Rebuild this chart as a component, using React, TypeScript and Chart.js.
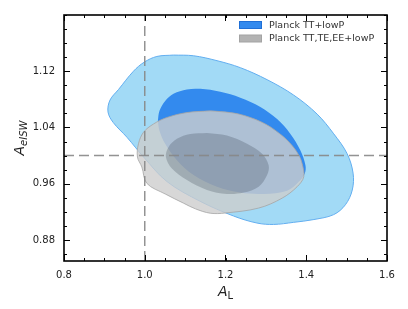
import React, { useEffect, useRef } from "react";
import { Chart, registerables } from "chart.js";

Chart.register(...registerables);

// ---- data ----
const AL_RANGE = [0.8, 1.6];
const AEISW_RANGE = [0.85, 1.2];
const AL_TICKS = [0.8, 1.0, 1.2, 1.4, 1.6];
const AEISW_TICKS = [0.88, 0.96, 1.04, 1.12];
const AL_MINOR_STEP = 0.05;
const AEISW_MINOR_STEP = 0.02;
const REF_AL = 1.0;
const REF_AEISW = 1.0;
const LEGEND_LABELS = ["Planck TT+lowP", "Planck TT,TE,EE+lowP"];

// Planck TT+lowP, 95% contour
const TT95_AL = [1.071, 1.121, 1.179, 1.237, 1.303, 1.369, 1.427, 1.468, 1.501, 1.516, 1.514, 1.497, 1.468, 1.419, 1.369, 1.319, 1.278, 1.220, 1.137, 1.055, 0.997, 0.956, 0.922, 0.909, 0.914, 0.935, 0.972, 0.999, 1.030];
const TT95_AEISW = [1.143, 1.142, 1.135, 1.125, 1.108, 1.086, 1.059, 1.031, 1.003, 0.975, 0.951, 0.930, 0.916, 0.909, 0.905, 0.902, 0.904, 0.914, 0.935, 0.963, 0.998, 1.026, 1.047, 1.062, 1.079, 1.094, 1.120, 1.133, 1.141];
// Planck TT+lowP, 68% contour
const TT68_AL = [1.0325, 1.0365, 1.0506, 1.0712, 1.1045, 1.1375, 1.1871, 1.2367, 1.2864, 1.3278, 1.3608, 1.3856, 1.398, 1.3963, 1.3814, 1.3526, 1.2945, 1.2367, 1.1789, 1.1208, 1.0797, 1.0506, 1.0365];
const TT68_AEISW = [1.0495, 1.0636, 1.0776, 1.0879, 1.0941, 1.0949, 1.0907, 1.0823, 1.0692, 1.0519, 1.0308, 1.0073, 0.9862, 0.9745, 0.9627, 0.9501, 0.9454, 0.9473, 0.9557, 0.9722, 0.9933, 1.0167, 1.0354];
// Planck TT,TE,EE+lowP, 95% contour
const TTTEEE95_AL = [1.1623, 1.2119, 1.2491, 1.2988, 1.3402, 1.3650, 1.3819, 1.3898, 1.3938, 1.3774, 1.3402, 1.2821, 1.1995, 1.1623, 1.1251, 1.0960, 1.0506, 1.0052, 0.9928, 0.9819, 0.9844, 0.9968, 1.0216, 1.0548, 1.1045];
const TTTEEE95_AEISW = [1.0636, 1.0612, 1.0565, 1.0449, 1.0284, 1.0143, 1.0003, 0.9886, 0.9698, 0.9557, 0.9394, 0.9253, 0.9183, 0.9180, 0.9243, 0.9323, 0.9454, 0.9605, 0.9838, 0.9979, 1.0167, 1.0331, 1.0449, 1.0541, 1.0612];
// Planck TT,TE,EE+lowP, 68% contour
const TTTEEE68_AL = [1.1541, 1.2037, 1.2533, 1.2906, 1.3069, 1.3030, 1.2821, 1.2449, 1.2037, 1.1541, 1.1045, 1.0672, 1.0524, 1.0588, 1.0797, 1.1127];
const TTTEEE68_AEISW = [1.0322, 1.0284, 1.0167, 1.0027, 0.9862, 0.9722, 0.9557, 0.9473, 0.9454, 0.9511, 0.9651, 0.9816, 0.9979, 1.0120, 1.0238, 1.0308];

const closed = (xs: number[], ys: number[]) => {
  const pts = xs.map((x, i) => ({ x, y: ys[i] }));
  pts.push({ ...pts[0] });
  return pts;
};

const FONT = "'DejaVu Sans', sans-serif";

const decorPlugin = {
  id: "decor",
  afterDraw(chart: any) {
    const { ctx, chartArea: a, scales } = chart;
    const xs = scales.x;
    const ys = scales.y;
    ctx.save();
    // ticks
    ctx.strokeStyle = "#000";
    ctx.lineWidth = 1;
    const drawX = (v: number, len: number) => {
      const p = Math.round(xs.getPixelForValue(v)) + 0.5;
      ctx.beginPath();
      ctx.moveTo(p, a.bottom);
      ctx.lineTo(p, a.bottom - len);
      ctx.moveTo(p, a.top);
      ctx.lineTo(p, a.top + len);
      ctx.stroke();
    };
    const drawY = (v: number, len: number) => {
      const p = Math.round(ys.getPixelForValue(v)) + 0.5;
      ctx.beginPath();
      ctx.moveTo(a.left, p);
      ctx.lineTo(a.left + len, p);
      ctx.moveTo(a.right, p);
      ctx.lineTo(a.right - len, p);
      ctx.stroke();
    };
    for (let v = AL_RANGE[0]; v <= AL_RANGE[1] + 1e-9; v += AL_MINOR_STEP) drawX(v, 3);
    AL_TICKS.forEach((v) => drawX(v, 6));
    for (let v = 0.8; v <= AEISW_RANGE[1] + 1e-9; v += AEISW_MINOR_STEP) {
      if (v >= AEISW_RANGE[0]) drawY(v, 3);
    }
    AEISW_TICKS.forEach((v) => drawY(v, 6));
    // frame
    ctx.lineWidth = 1.6;
    ctx.strokeStyle = "#000";
    ctx.strokeRect(a.left, a.top, a.right - a.left, a.bottom - a.top);

    // axis titles
    ctx.fillStyle = "#222";
    ctx.textBaseline = "alphabetic";
    ctx.textAlign = "left";
    ctx.font = `italic 14px ${FONT}`;
    const wA = ctx.measureText("A").width;
    ctx.font = `10px ${FONT}`;
    const wL = ctx.measureText("L").width;
    const cx = (a.left + a.right) / 2;
    const sx = cx - (wA + wL) / 2;
    ctx.font = `italic 14px ${FONT}`;
    ctx.fillText("A", sx, 296);
    ctx.font = `10px ${FONT}`;
    ctx.fillText("L", sx + wA, 299);

    ctx.save();
    ctx.translate(24, (a.top + a.bottom) / 2);
    ctx.rotate(-Math.PI / 2);
    ctx.font = `italic 10px ${FONT}`;
    const wSub = ctx.measureText("eISW").width;
    ctx.font = `italic 14px ${FONT}`;
    const sy = -(wA + wSub) / 2;
    ctx.fillText("A", sy, 0);
    ctx.font = `italic 10px ${FONT}`;
    ctx.fillText("eISW", sy + wA, 3);
    ctx.restore();

    // legend
    const patches = [
      { fill: "#338aee", stroke: "#1f6fd6" },
      { fill: "#b3b3b3", stroke: "#a3a3a3" },
    ];
    const rowsY = [25, 38.5];
    ctx.font = `9.5px ${FONT}`;
    ctx.textBaseline = "middle";
    LEGEND_LABELS.forEach((lab, i) => {
      ctx.fillStyle = patches[i].fill;
      ctx.fillRect(239.5, rowsY[i] - 3.5, 22, 7);
      ctx.strokeStyle = patches[i].stroke;
      ctx.lineWidth = 1;
      ctx.strokeRect(239.5, rowsY[i] - 3.5, 22, 7);
      ctx.fillStyle = "#333";
      ctx.fillText(lab, 269, rowsY[i] + 0.5);
    });
    ctx.restore();
  },
};

export default function App() {
  const ref = useRef<HTMLCanvasElement | null>(null);
  useEffect(() => {
    if (!ref.current) return;
    const chart = new Chart(ref.current, {
      type: "scatter",
      data: {
        datasets: [
          {
            label: "refAL",
            data: [
              { x: REF_AL, y: AEISW_RANGE[0] },
              { x: REF_AL, y: AEISW_RANGE[1] },
            ],
            showLine: true,
            borderColor: "rgba(135,135,135,0.9)",
            borderWidth: 1.5,
            borderDash: [10, 5],
            pointRadius: 0,
            fill: false,
            order: 0,
          },
          {
            label: "refAeISW",
            data: [
              { x: AL_RANGE[0], y: REF_AEISW },
              { x: AL_RANGE[1], y: REF_AEISW },
            ],
            showLine: true,
            borderColor: "rgba(135,135,135,0.9)",
            borderWidth: 1.5,
            borderDash: [10, 5],
            pointRadius: 0,
            fill: false,
            order: 0,
          },
          {
            label: "TTTEEE68",
            data: closed(TTTEEE68_AL, TTTEEE68_AEISW),
            showLine: true,
            tension: 0.35,
            borderWidth: 0,
            borderColor: "rgba(0,0,0,0)",
            backgroundColor: "rgba(20,30,45,0.2)",
            fill: "shape",
            pointRadius: 0,
            order: 1,
          },
          {
            label: "TTTEEE95",
            data: closed(TTTEEE95_AL, TTTEEE95_AEISW),
            showLine: true,
            tension: 0.35,
            borderWidth: 1,
            borderColor: "rgba(165,165,165,0.8)",
            backgroundColor: "rgba(205,205,205,0.8)",
            fill: "shape",
            pointRadius: 0,
            order: 2,
          },
          {
            label: "TT68",
            data: closed(TT68_AL, TT68_AEISW),
            showLine: true,
            tension: 0.35,
            borderWidth: 0,
            borderColor: "rgba(0,0,0,0)",
            backgroundColor: "#338aee",
            fill: "shape",
            pointRadius: 0,
            order: 3,
          },
          {
            label: "TT95",
            data: closed(TT95_AL, TT95_AEISW),
            showLine: true,
            tension: 0.35,
            borderWidth: 1,
            borderColor: "#62aef0",
            backgroundColor: "#a2daf6",
            fill: "shape",
            pointRadius: 0,
            order: 4,
          },
        ],
      },
      options: {
        responsive: false,
        animation: false,
        devicePixelRatio: 1,
        layout: { padding: { left: 0, right: 21, top: 13, bottom: 0 } },
        plugins: {
          legend: { display: false },
          tooltip: { enabled: false },
        },
        scales: {
          x: {
            type: "linear",
            min: AL_RANGE[0],
            max: AL_RANGE[1],
            afterBuildTicks: (s: any) => {
              s.ticks = AL_TICKS.map((v) => ({ value: v }));
            },
            afterFit: (s: any) => {
              s.height = 48;
            },
            grid: { display: false, drawTicks: false },
            border: { display: false },
            ticks: {
              padding: 8,
              color: "#222",
              font: { family: FONT, size: 10 },
              callback: (v: any) => Number(v).toFixed(1),
            },
          },
          y: {
            type: "linear",
            min: AEISW_RANGE[0],
            max: AEISW_RANGE[1],
            afterBuildTicks: (s: any) => {
              s.ticks = AEISW_TICKS.map((v) => ({ value: v }));
            },
            afterFit: (s: any) => {
              s.width = 64;
            },
            grid: { display: false, drawTicks: false },
            border: { display: false },
            ticks: {
              padding: 9,
              color: "#222",
              font: { family: FONT, size: 10 },
              callback: (v: any) => Number(v).toFixed(2),
            },
          },
        },
      },
      plugins: [decorPlugin],
    });
    return () => chart.destroy();
  }, []);
  return (
    <canvas
      ref={ref}
      width={408}
      height={309}
      style={{ position: "fixed", left: 0, top: 0, width: 408, height: 309, background: "#fff" }}
    />
  );
}
